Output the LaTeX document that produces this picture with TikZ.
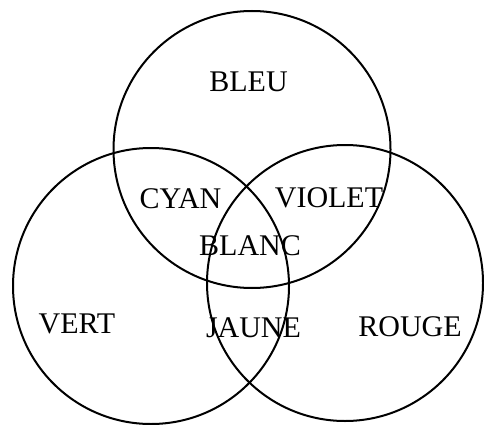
\documentclass[tikz,border=0pt]{standalone}
\usepackage{fontspec}
\setmainfont{Liberation Serif}
\usepackage{tikz}
\usetikzlibrary{positioning}

\begin{document}
\begin{tikzpicture}[x=1pt,y=-1pt,
        ring/.style={draw=black,line width=2pt},
        lbl/.style={anchor=base,inner sep=0pt,font=\fontsize{30}{34}\selectfont}]
        \useasboundingbox (0,0) rectangle (484,425);
        \coordinate (cb) at (252,149.5);
        \coordinate (cv) at (151,286);
        \coordinate (cr) at (345,283);
        \draw[ring] (cb) circle[radius=138.5pt];
        \draw[ring] (cv) circle[radius=138pt];
        \draw[ring] (cr) circle[radius=138pt];
        \node[lbl] (bleu) at (248.5,92) {BLEU};
        \node[lbl] (cyan) at (180.5,208) {CYAN};
        \node[lbl] (violet) at (329,207) {VIOLET};
        \node[lbl] (blanc) at (250,255) {BLANC};
        \node[lbl] (vert) at (77,333) {VERT};
        \node[lbl] (jaune) at (253.5,337) {JAUNE};
        \node[lbl] (rouge) at (410,336) {ROUGE};
      \end{tikzpicture}
\end{document}
